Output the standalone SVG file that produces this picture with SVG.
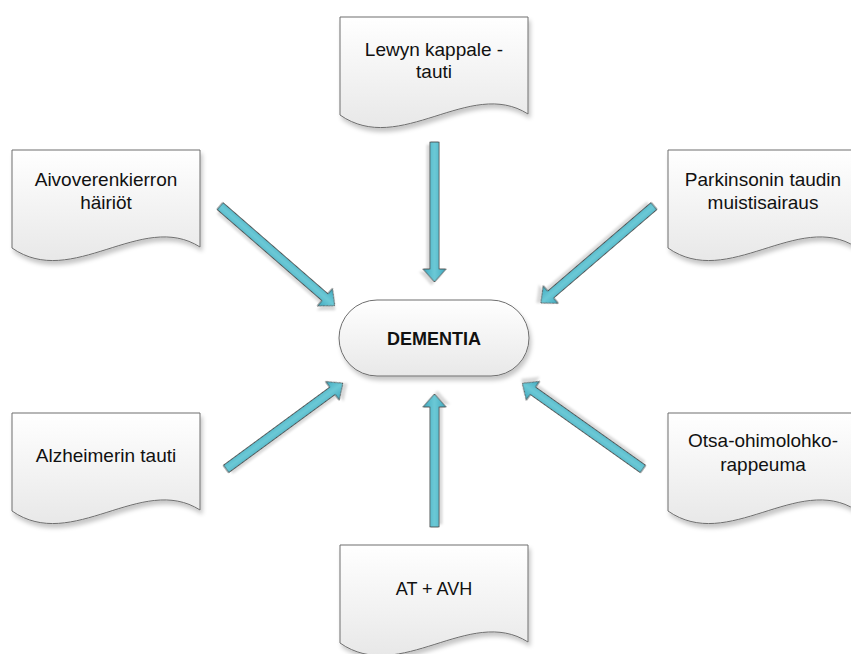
<svg xmlns="http://www.w3.org/2000/svg" width="851" height="654" viewBox="0 0 851 654">
<defs>
<linearGradient id="boxg" x1="0" y1="0" x2="0" y2="1">
<stop offset="0" stop-color="#ffffff"/>
<stop offset="1" stop-color="#e8e8e8"/>
</linearGradient>
<linearGradient id="arrg" x1="0" y1="0" x2="0" y2="1">
<stop offset="0" stop-color="#3fa9bf"/>
<stop offset="0.5" stop-color="#6cc9d6"/>
<stop offset="1" stop-color="#3fa9bf"/>
</linearGradient>
<filter id="sh" x="-10%" y="-10%" width="130%" height="140%">
<feDropShadow dx="2" dy="4" stdDeviation="2" flood-color="#000" flood-opacity="0.22"/>
</filter>
<filter id="ash" x="-20%" y="-20%" width="140%" height="140%">
<feDropShadow dx="3" dy="3" stdDeviation="1.2" flood-color="#000" flood-opacity="0.15"/>
</filter>
<path id="doc" d="M0,0 H188 V97 C130,60 60,140 0,98 Z"/>
</defs>
<style>
.box{fill:url(#boxg);stroke:#6e6e6e;stroke-width:1;filter:url(#sh)}
.t{font-family:"Liberation Sans",Arial,sans-serif;font-size:19px;fill:#111;text-anchor:middle}
.s{font-size:18px}
.a{fill:url(#arrg);stroke:#4a4a4a;stroke-width:0.9;stroke-linejoin:miter;filter:url(#ash)}
</style>

<g id="n_lewy">
<use href="#doc" x="340" y="17" class="box"/>
<text class="t" x="434" y="56">Lewyn kappale -</text>
<text class="t" x="434" y="78">tauti</text>
</g>

<g id="n_aivo">
<use href="#doc" x="12" y="150" class="box"/>
<text class="t" x="106" y="186">Aivoverenkierron</text>
<text class="t" x="106" y="209">häiriöt</text>
</g>

<g id="n_park">
<use href="#doc" x="668" y="150" class="box"/>
<text class="t" x="763" y="186">Parkinsonin taudin</text>
<text class="t" x="763" y="209">muistisairaus</text>
</g>

<g id="n_dementia">
<rect x="339" y="300" width="190" height="76" rx="38" ry="38" class="box"/>
<text class="t s" x="434" y="345" font-weight="bold">DEMENTIA</text>
</g>

<g id="n_alz">
<use href="#doc" x="12" y="413" class="box"/>
<text class="t" x="106" y="462">Alzheimerin tauti</text>
</g>

<g id="n_otsa">
<use href="#doc" x="668" y="413" class="box"/>
<text class="t" x="763" y="447">Otsa-ohimolohko-</text>
<text class="t" x="763" y="471">rappeuma</text>
</g>

<g id="n_atavh">
<use href="#doc" x="340" y="545" class="box"/>
<text class="t s" x="434" y="595">AT + AVH</text>
</g>

<g id="connectors">
<path class="a" transform="translate(434.5,142) rotate(90)" d="M0,-4.5 H127 V-11.5 L140,0 L127,11.5 V4.5 H0 Z"/>
<path class="a" transform="translate(434.5,527) rotate(-90)" d="M0,-4.5 H120 V-11.5 L133,0 L120,11.5 V4.5 H0 Z"/>
<path class="a" transform="translate(220,206) rotate(41)" d="M0,-4.5 H139 V-11.5 L152,0 L139,11.5 V4.5 H0 Z"/>
<path class="a" transform="translate(654,206) rotate(139.4)" d="M0,-4.5 H136 V-11.5 L149,0 L136,11.5 V4.5 H0 Z"/>
<path class="a" transform="translate(226,469) rotate(-36.3)" d="M0,-4.5 H132 V-11.5 L145,0 L132,11.5 V4.5 H0 Z"/>
<path class="a" transform="translate(643,469) rotate(-144.6)" d="M0,-4.5 H135 V-11.5 L148,0 L135,11.5 V4.5 H0 Z"/>
</g>
</svg>
